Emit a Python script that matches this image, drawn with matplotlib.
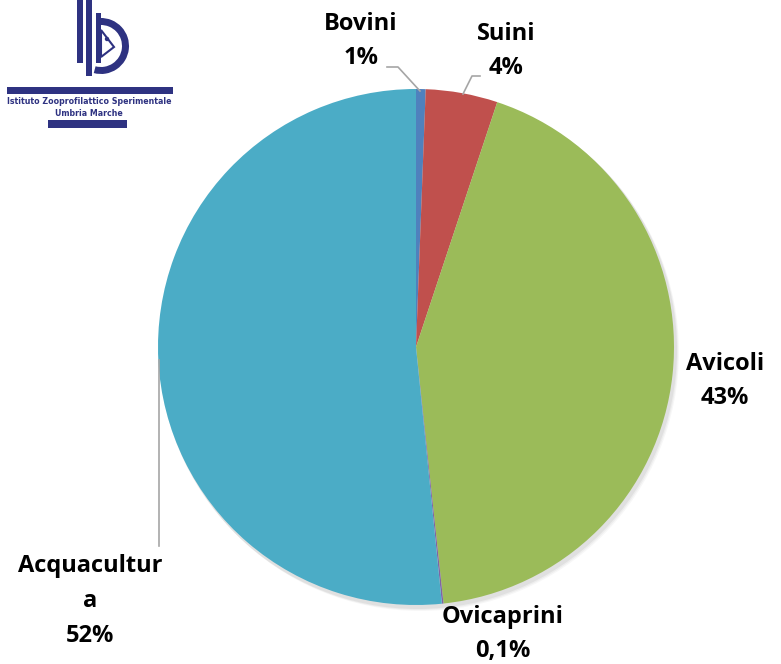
import matplotlib
matplotlib.use("Agg")
import matplotlib.pyplot as plt
from matplotlib import patches

# data
categories = ["Bovini", "Suini", "Avicoli", "Ovicaprini", "Acquacultur\na"]
values = [0.6, 4.5, 43.2, 0.1, 51.6]
pct_labels = ["1%", "4%", "43%", "0,1%", "52%"]
colors = ["#4F81BD", "#C0504D", "#9BBB59", "#8064A2", "#4BACC6"]

W, H = 781, 664
navy = "#2E3281"


def Y(y):
    # pixel row -> data y (origin at bottom)
    return H - y


fig = plt.figure(figsize=(W / 100, H / 100), dpi=100)
ax = fig.add_axes([0, 0, 1, 1])
ax.set_xlim(0, W)
ax.set_ylim(0, H)
ax.set_aspect("equal")
ax.axis("off")

cx, cy, r = 416, Y(347), 258

# soft shadow
for i, a in enumerate([0.05, 0.04, 0.03]):
    ax.add_patch(patches.Circle((cx + 2 + i, cy - 3 - i), r + 1, color="#000000",
                                alpha=a, lw=0, zorder=1))

ax.pie(values, colors=colors, startangle=90, counterclock=False,
       center=(cx, cy), radius=r, frame=True,
       wedgeprops=dict(linewidth=0, zorder=2))
ax.set_xlim(0, W)
ax.set_ylim(0, H)
ax.axis("off")

font = dict(family=["Open Sans", "DejaVu Sans"], fontsize=17, fontweight="bold",
            color="black", ha="center", va="center", linespacing=1.6)
label_pos = [(361, 41), (506, 51), (725, 381), (503, 634), (90, 601)]
for name, pct, (x, y) in zip(categories, pct_labels, label_pos):
    ax.text(x, Y(y), name + "\n" + pct, zorder=5, **font)

# leader lines
lc = "#A6A6A6"
ax.plot([387, 398, 420], [Y(67), Y(67), Y(91)], color=lc, lw=1.2, zorder=4)
ax.plot([480, 472, 463], [Y(76), Y(76), Y(94)], color=lc, lw=1.2, zorder=4)
ax.plot([159, 159], [Y(360), Y(546)], color=lc, lw=1.2, zorder=4)

# logo
ax.add_patch(patches.Rectangle((77, Y(63)), 6, 63, color=navy, lw=0, zorder=6))
ax.add_patch(patches.Rectangle((86, Y(76)), 6, 76, color=navy, lw=0, zorder=6))
ax.add_patch(patches.Rectangle((96, Y(63)), 5, 50, color=navy, lw=0, zorder=6))
ax.add_patch(patches.Wedge((101, Y(46)), 28, -105, 92, width=7, color=navy,
                           lw=0, zorder=6))
ax.add_patch(patches.Polygon([(101, Y(30)), (114, Y(47)), (101, Y(57))],
                             closed=True, fc="none", ec=navy, lw=1.5, zorder=6))
ax.add_patch(patches.Circle((107, Y(39)), 2.2, color=navy, lw=0, zorder=6))
ax.add_patch(patches.Rectangle((7, Y(94)), 166, 7, color=navy, lw=0, zorder=6))
ax.add_patch(patches.Rectangle((48, Y(128)), 79, 8, color=navy, lw=0, zorder=6))
ax.text(89, Y(102), "Istituto Zooprofilattico Sperimentale", fontsize=5.7,
        fontweight="heavy", color=navy, ha="center", va="center",
        family="DejaVu Sans", zorder=6)
ax.text(89, Y(114), "Umbria Marche", fontsize=5.7, fontweight="heavy",
        color=navy, ha="center", va="center", family="DejaVu Sans", zorder=6)

fig.savefig("out.png", dpi=100)
